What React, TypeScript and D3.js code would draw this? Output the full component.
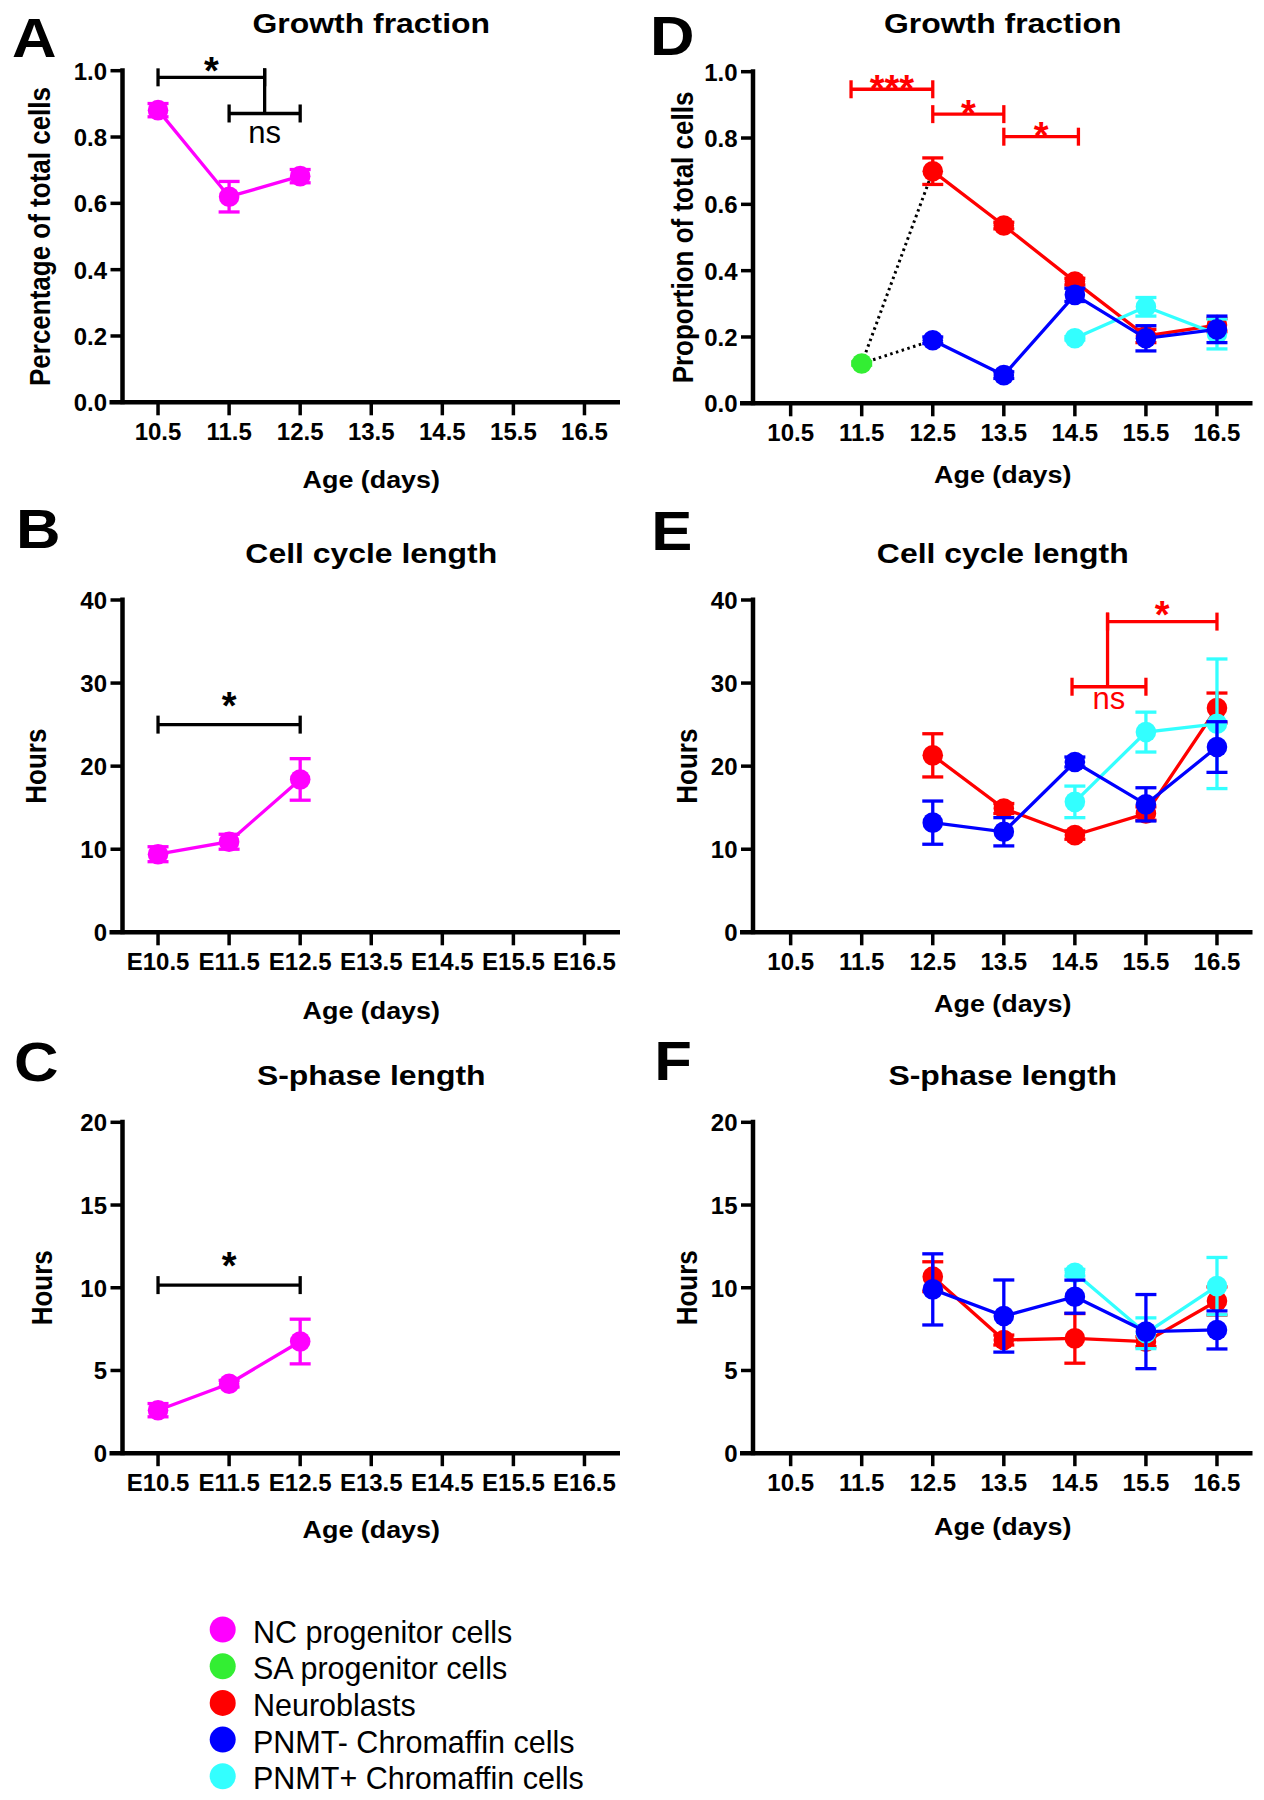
import React from 'react';
import * as d3 from 'd3';

// ---------- categories / ticks ----------
const ages = [10.5, 11.5, 12.5, 13.5, 14.5, 15.5, 16.5];
const ageLabels = ['10.5', '11.5', '12.5', '13.5', '14.5', '15.5', '16.5'];
const ageLabelsE = ['E10.5', 'E11.5', 'E12.5', 'E13.5', 'E14.5', 'E15.5', 'E16.5'];
const growthTicks = [0, 0.2, 0.4, 0.6, 0.8, 1.0];
const cycleTicks = [0, 10, 20, 30, 40];
const sphaseTicks = [0, 5, 10, 15, 20];

// ---------- series ----------
const seriesNames = ['NC progenitor cells', 'SA progenitor cells', 'Neuroblasts', 'PNMT- Chromaffin cells', 'PNMT+ Chromaffin cells'];
const seriesColors = ['#ff00ff', '#33ee33', '#ff0000', '#0000ff', '#33ffff'];

// NC progenitor cells
const ncAges = [10.5, 11.5, 12.5];
const ncGrowth = [0.881, 0.62, 0.682];
const ncGrowthErr = [0.02, 0.046, 0.02];
const ncCycle = [9.4, 10.9, 18.4];
const ncCycleErr = [0.9, 0.9, 2.5];
const ncSphase = [2.6, 4.2, 6.75];
const ncSphaseErr = [0.4, 0.2, 1.35];

// SA progenitor cells
const saAges = [11.5];
const saGrowth = [0.12];
const saGrowthErr = [0.005];

// Neuroblasts
const nbAges = [12.5, 13.5, 14.5, 15.5, 16.5];
const nbGrowth = [0.70, 0.536, 0.367, 0.203, 0.236];
const nbGrowthErr = [0.04, 0.01, 0.01, 0.02, 0.02];
const nbCycle = [21.3, 14.9, 11.7, 14.3, 27.0];
const nbCycleErr = [2.6, 0.6, 0.5, 0.8, 1.8];
const nbSphase = [10.67, 6.84, 6.94, 6.74, 9.2];
const nbSphaseErr = [0.9, 0.3, 1.5, 0.3, 0.85];

// PNMT- chromaffin cells
const pmAges = [12.5, 13.5, 14.5, 15.5, 16.5];
const pmGrowth = [0.19, 0.085, 0.327, 0.196, 0.223];
const pmGrowthErr = [0.01, 0.01, 0.02, 0.038, 0.04];
const pmCycle = [13.2, 12.1, 20.5, 15.4, 22.3];
const pmCycleErr = [2.6, 1.7, 0.6, 2.0, 3.05];
const pmSphase = [9.9, 8.29, 9.46, 7.35, 7.45];
const pmSphaseErr = [2.15, 2.18, 1.0, 2.24, 1.15];

// PNMT+ chromaffin cells
const ppAges = [14.5, 15.5, 16.5];
const ppGrowth = [0.196, 0.291, 0.209];
const ppGrowthErr = [0.005, 0.028, 0.045];
const ppCycle = [15.7, 24.1, 25.1];
const ppCycleErr = [1.9, 2.4, 7.8];
const ppSphase = [10.91, 7.25, 10.1];
const ppSphaseErr = [0.2, 0.93, 1.73];

// ---------- significance annotations (data units) ----------
const aBrackets = [
  { x1: 10.5, x2: 12.0, y: 0.98, label: '*', ly: 1.023 },
  { x1: 11.5, x2: 12.5, y: 0.871, label: 'ns', ly: 0.805 },
];
const aDrops = [{ x: 12.0, y1: 0.98, y2: 0.871 }];
const bBrackets = [{ x1: 10.5, x2: 12.5, y: 25, label: '*', ly: 28.2 }];
const cBrackets = [{ x1: 10.5, x2: 12.5, y: 10.16, label: '*', ly: 11.8 }];
const dBrackets = [
  { x1: 11.35, x2: 12.5, y: 0.947, label: '***', ly: 0.9725 },
  { x1: 12.5, x2: 13.5, y: 0.872, label: '*', ly: 0.8966 },
  { x1: 13.5, x2: 14.55, y: 0.804, label: '*', ly: 0.83 },
];
const eBrackets = [
  { x1: 14.46, x2: 15.5, y: 29.56, label: 'ns', ly: 27.8 },
  { x1: 14.96, x2: 16.5, y: 37.4, label: '*', ly: 39.2 },
];
const eDrops = [{ x: 14.96, y1: 37.4, y2: 29.56 }];

const FONT = 'Liberation Sans, Arial, Helvetica, sans-serif';

type Ser = { ages: number[]; vals: number[]; errs: number[]; color: string };
const mk = (a: number[], v: number[], e: number[], c: number): Ser => ({ ages: a, vals: v, errs: e, color: seriesColors[c] });

function Txt(p: { x: number; y: number; size: number; bold?: boolean; sx?: number; sy?: number; anchor?: string; fill?: string; rot?: boolean; children: any }) {
  const t = `translate(${p.x},${p.y})${p.rot ? ' rotate(-90)' : ''} scale(${p.sx ?? 1},${p.sy ?? 1})`;
  return (
    <text transform={t} fontFamily={FONT} fontSize={p.size} fontWeight={p.bold ? 'bold' : 'normal'}
      textAnchor={p.anchor ?? 'start'} fill={p.fill ?? '#000'}>{p.children}</text>
  );
}

type PanelCfg = {
  letter: string; letterX: number; letterY: number;
  title: string; titleY: number;
  yLabel: string; yLabelX: number;
  x0: number; x1: number; xDomain: [number, number];
  yTop: number; yBot: number; yMax: number; yTicks: number[]; fmt: (n: number) => string;
  xLabels: string[]; xLabelY: number;
  series: Ser[]; brackets: any[]; drops: any[]; annColor: string;
  dotted?: [number, number][][];
};

function Panel({ c }: { c: PanelCfg }) {
  const x = d3.scaleLinear().domain(c.xDomain).range([c.x0, c.x1]);
  const y = d3.scaleLinear().domain([0, c.yMax]).range([c.yBot, c.yTop]);
  const line = d3.line<[number, number]>().x(d => x(d[0])).y(d => y(d[1]));
  const cx = (c.x0 + c.x1) / 2;
  const cy = (c.yTop + c.yBot) / 2;
  const SW = 3.3;
  const CAP = 10.5;
  return (
    <g>
      <Txt x={c.letterX} y={c.letterY} size={56} bold sx={1.1}>{c.letter}</Txt>
      <Txt x={cx} y={c.titleY} size={28} bold sx={1.14} anchor="middle">{c.title}</Txt>
      <Txt x={c.yLabelX} y={cy} size={26} bold rot sy={1.12} anchor="middle">{c.yLabel}</Txt>
      <Txt x={cx} y={c.xLabelY} size={24} bold sx={1.12} anchor="middle">Age (days)</Txt>
      {/* axes */}
      <line x1={c.x0} x2={c.x0} y1={c.yTop - 2.5} y2={c.yBot + 2} stroke="#000" strokeWidth={4.5} />
      <line x1={c.x0 - 13} x2={c.x1} y1={c.yBot} y2={c.yBot} stroke="#000" strokeWidth={4.5} />
      {c.yTicks.map(t => (
        <g key={'yt' + t}>
          <line x1={c.x0 - 12} x2={c.x0} y1={y(t)} y2={y(t)} stroke="#000" strokeWidth={3.5} />
          <Txt x={c.x0 - 15.5} y={y(t) + 9} size={24} bold anchor="end">{c.fmt(t)}</Txt>
        </g>
      ))}
      {ages.map((a, i) => (
        <g key={'xt' + a}>
          <line x1={x(a)} x2={x(a)} y1={c.yBot} y2={c.yBot + 13} stroke="#000" strokeWidth={3.5} />
          <Txt x={x(a)} y={c.yBot + 37.5} size={24} bold anchor="middle">{c.xLabels[i]}</Txt>
        </g>
      ))}
      {/* dotted links */}
      {(c.dotted ?? []).map((pts, i) => (
        <path key={'dl' + i} d={line(pts) ?? ''} fill="none" stroke="#000" strokeWidth={3} strokeDasharray="2.5,3.5" />
      ))}
      {/* series */}
      {c.series.map((s, si) => {
        const pts = s.ages.map((a, i) => [a, s.vals[i]] as [number, number]);
        return (
          <g key={'s' + si}>
            {pts.length > 1 && <path d={line(pts) ?? ''} fill="none" stroke={s.color} strokeWidth={SW} />}
            {pts.map((p, i) => {
              const px = x(p[0]);
              const yh = y(p[1] + s.errs[i]);
              const yl = y(p[1] - s.errs[i]);
              return (
                <g key={'e' + i} stroke={s.color} strokeWidth={SW}>
                  <line x1={px} x2={px} y1={yh} y2={yl} />
                  <line x1={px - CAP} x2={px + CAP} y1={yh} y2={yh} />
                  <line x1={px - CAP} x2={px + CAP} y1={yl} y2={yl} />
                </g>
              );
            })}
            {pts.map((p, i) => (
              <circle key={'m' + i} cx={x(p[0])} cy={y(p[1])} r={10.3} fill={s.color} />
            ))}
          </g>
        );
      })}
      {/* significance brackets */}
      {c.brackets.map((b, i) => (
        <g key={'b' + i}>
          <g stroke={c.annColor} strokeWidth={SW}>
            <line x1={x(b.x1)} x2={x(b.x2)} y1={y(b.y)} y2={y(b.y)} />
            <line x1={x(b.x1)} x2={x(b.x1)} y1={y(b.y) - 9} y2={y(b.y) + 9} />
            <line x1={x(b.x2)} x2={x(b.x2)} y1={y(b.y) - 9} y2={y(b.y) + 9} />
          </g>
          {b.label === 'ns' ? (
            <Txt x={x((b.x1 + b.x2) / 2)} y={y(b.ly) + 8} size={31} anchor="middle" fill={c.annColor}>ns</Txt>
          ) : (
            <Txt x={x((b.x1 + b.x2) / 2)} y={y(b.ly) + 21} size={38} bold anchor="middle" fill={c.annColor}>{b.label}</Txt>
          )}
        </g>
      ))}
      {c.drops.map((d, i) => (
        <line key={'d' + i} x1={x(d.x)} x2={x(d.x)} y1={y(d.y1) - 9} y2={y(d.y2)} stroke={c.annColor} strokeWidth={SW} />
      ))}
    </g>
  );
}

export default function App() {
  const f1 = d3.format('.1f');
  const fd = d3.format('d');
  const L: [number, number] = [10, 17];
  const R: [number, number] = [9.97, 17];
  const saPt: [number, number] = [saAges[0], saGrowth[0]];
  const LX0 = 122.5, LX1 = 620, RX0 = 753, RX1 = 1252.5;
  const panels: PanelCfg[] = [
    {
      letter: 'A', letterX: 12, letterY: 56.7, title: 'Growth fraction', titleY: 33, yLabel: 'Percentage of total cells', yLabelX: 50.4,
      x0: LX0, x1: LX1, xDomain: L, yTop: 70.7, yBot: 402.3, yMax: 1, yTicks: growthTicks, fmt: f1,
      xLabels: ageLabels, xLabelY: 488.3, series: [mk(ncAges, ncGrowth, ncGrowthErr, 0)], brackets: aBrackets, drops: aDrops, annColor: '#000',
    },
    {
      letter: 'B', letterX: 16, letterY: 548.3, title: 'Cell cycle length', titleY: 563.3, yLabel: 'Hours', yLabelX: 46.4,
      x0: LX0, x1: LX1, xDomain: L, yTop: 600, yBot: 932.3, yMax: 40, yTicks: cycleTicks, fmt: fd,
      xLabels: ageLabelsE, xLabelY: 1019, series: [mk(ncAges, ncCycle, ncCycleErr, 0)], brackets: bBrackets, drops: [], annColor: '#000',
    },
    {
      letter: 'C', letterX: 14, letterY: 1081, title: 'S-phase length', titleY: 1085.4, yLabel: 'Hours', yLabelX: 52.4,
      x0: LX0, x1: LX1, xDomain: L, yTop: 1122.3, yBot: 1453.2, yMax: 20, yTicks: sphaseTicks, fmt: fd,
      xLabels: ageLabelsE, xLabelY: 1538.3, series: [mk(ncAges, ncSphase, ncSphaseErr, 0)], brackets: cBrackets, drops: [], annColor: '#000',
    },
    {
      letter: 'D', letterX: 650, letterY: 55, title: 'Growth fraction', titleY: 33, yLabel: 'Proportion of total cells', yLabelX: 692.5,
      x0: RX0, x1: RX1, xDomain: R, yTop: 71.7, yBot: 403.3, yMax: 1, yTicks: growthTicks, fmt: f1,
      xLabels: ageLabels, xLabelY: 483.3,
      series: [mk(saAges, saGrowth, saGrowthErr, 1), mk(nbAges, nbGrowth, nbGrowthErr, 2), mk(ppAges, ppGrowth, ppGrowthErr, 4), mk(pmAges, pmGrowth, pmGrowthErr, 3)],
      brackets: dBrackets, drops: [], annColor: '#ff0000',
      dotted: [[saPt, [nbAges[0], nbGrowth[0]]], [saPt, [pmAges[0], pmGrowth[0]]]],
    },
    {
      letter: 'E', letterX: 651.3, letterY: 550, title: 'Cell cycle length', titleY: 563.3, yLabel: 'Hours', yLabelX: 696.5,
      x0: RX0, x1: RX1, xDomain: R, yTop: 600, yBot: 932.3, yMax: 40, yTicks: cycleTicks, fmt: fd,
      xLabels: ageLabels, xLabelY: 1011.7,
      series: [mk(nbAges, nbCycle, nbCycleErr, 2), mk(ppAges, ppCycle, ppCycleErr, 4), mk(pmAges, pmCycle, pmCycleErr, 3)],
      brackets: eBrackets, drops: eDrops, annColor: '#ff0000',
    },
    {
      letter: 'F', letterX: 654.2, letterY: 1080.3, title: 'S-phase length', titleY: 1085.4, yLabel: 'Hours', yLabelX: 696.5,
      x0: RX0, x1: RX1, xDomain: R, yTop: 1122.3, yBot: 1453.2, yMax: 20, yTicks: sphaseTicks, fmt: fd,
      xLabels: ageLabels, xLabelY: 1534.9,
      series: [mk(nbAges, nbSphase, nbSphaseErr, 2), mk(ppAges, ppSphase, ppSphaseErr, 4), mk(pmAges, pmSphase, pmSphaseErr, 3)],
      brackets: [], drops: [], annColor: '#ff0000',
    },
  ];
  return (
    <svg width={1264} height={1800} style={{ position: 'absolute', left: 0, top: 0, background: '#fff' }}>
      <rect x={0} y={0} width={1264} height={1800} fill="#fff" />
      {panels.map(p => <Panel key={p.letter} c={p} />)}
      <g>
        {seriesNames.map((n, i) => (
          <g key={n}>
            <circle cx={222.7} cy={1629.5 + i * 36.7} r={13} fill={seriesColors[i]} />
            <Txt x={253} y={1629.5 + i * 36.7 + 13} size={30.5}>{n}</Txt>
          </g>
        ))}
      </g>
    </svg>
  );
}
